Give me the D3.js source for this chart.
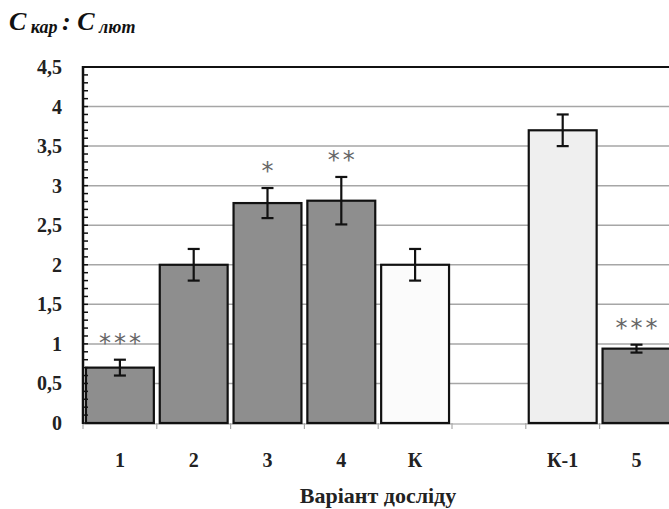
<!DOCTYPE html>
<meta charset="utf-8">
<script src="https://d3js.org/d3.v7.min.js"></script>
<style>
  body { margin: 0; background: #fff; }
</style>
<div id="chart"></div>
<script>

// data
var categories = ["1", "2", "3", "4", "К", "gap", "К-1", "5"];
var labels     = ["1", "2", "3", "4", "К", "",    "К-1", "5"];
var values     = [0.70, 2.00, 2.78, 2.81, 2.00, null, 3.70, 0.94];
var errors     = [0.10, 0.20, 0.19, 0.30, 0.20, null, 0.20, 0.05];
var groups     = ["exp", "exp", "exp", "exp", "ctrl", null, "ctrl1", "exp"];
var stars      = ["***", "", "*", "**", "", "", "", "***"];
var yTicks     = [0, 0.5, 1, 1.5, 2, 2.5, 3, 3.5, 4, 4.5];

var data = categories.map(function(c, i) {
  return {cat: c, label: labels[i], value: values[i], err: errors[i], group: groups[i], star: stars[i]};
});

var W = 669, H = 509;
var margin = {top: 67, left: 83, bottom: 86};
var plotH = H - margin.top - margin.bottom;
var step = 73.8;
var serif = "'Liberation Serif', 'Times New Roman', serif";

var fill = {exp: "#8e8e8e", ctrl: "#fbfbfb", ctrl1: "#efefef"};

var svg = d3.select("#chart").append("svg")
    .attr("width", W)
    .attr("height", H)
    .attr("font-family", serif)
    .attr("font-weight", "bold");

var x = d3.scaleBand()
    .domain(categories)
    .range([margin.left, margin.left + step * categories.length])
    .padding(0);

var y = d3.scaleLinear()
    .domain([0, 4.5])
    .range([margin.top + plotH, margin.top]);

// gridlines
svg.append("g")
  .selectAll("line")
  .data(yTicks.filter(function(t) { return t > 0 && t < 4.5; }))
  .enter().append("line")
    .attr("x1", margin.left)
    .attr("x2", W)
    .attr("y1", function(d) { return y(d); })
    .attr("y2", function(d) { return y(d); })
    .attr("stroke", "#a6a6a6")
    .attr("stroke-width", 1.5);

// top border
svg.append("line")
    .attr("x1", margin.left).attr("x2", W)
    .attr("y1", y(4.5)).attr("y2", y(4.5))
    .attr("stroke", "#111").attr("stroke-width", 2);

// bottom axis with category boundary ticks
var xBound = d3.range(categories.length + 1).map(function(i) { return margin.left + i * step; });
svg.append("line")
    .attr("x1", margin.left).attr("x2", W)
    .attr("y1", y(0) + 1).attr("y2", y(0) + 1)
    .attr("stroke", "#999").attr("stroke-width", 1);
svg.append("g")
  .selectAll("line")
  .data(xBound)
  .enter().append("line")
    .attr("x1", function(d) { return d; })
    .attr("x2", function(d) { return d; })
    .attr("y1", y(0))
    .attr("y2", y(0) + 6)
    .attr("stroke", "#aaa")
    .attr("stroke-width", 1.2);

// bars
var inset = step * 0.04;
var bars = data.filter(function(d) { return d.value != null; });

svg.append("g")
  .selectAll("rect")
  .data(bars)
  .enter().append("rect")
    .attr("x", function(d) { return x(d.cat) + inset; })
    .attr("width", x.bandwidth() - 2 * inset)
    .attr("y", function(d) { return y(d.value); })
    .attr("height", function(d) { return y(0) - y(d.value); })
    .attr("fill", function(d) { return fill[d.group]; })
    .attr("stroke", "#111")
    .attr("stroke-width", 2.2);

// error bars
var eb = svg.append("g").attr("stroke", "#111").attr("stroke-width", 2.2);
bars.forEach(function(d) {
  var cx = x(d.cat) + x.bandwidth() / 2;
  eb.append("line")
      .attr("x1", cx).attr("x2", cx)
      .attr("y1", y(d.value + d.err)).attr("y2", y(d.value - d.err));
  eb.append("line")
      .attr("x1", cx - 6).attr("x2", cx + 6)
      .attr("y1", y(d.value + d.err)).attr("y2", y(d.value + d.err));
  eb.append("line")
      .attr("x1", cx - 6).attr("x2", cx + 6)
      .attr("y1", y(d.value - d.err)).attr("y2", y(d.value - d.err));
});

// significance stars
svg.append("g")
  .selectAll("text")
  .data(bars.filter(function(d) { return d.star; }))
  .enter().append("text")
    .attr("x", function(d) { return x(d.cat) + x.bandwidth() / 2 + 1.5; })
    .attr("y", function(d) { return y(d.value + d.err) - 22 + 13; })
    .attr("text-anchor", "middle")
    .attr("fill", "#666")
    .attr("font-family", "'DejaVu Sans', sans-serif")
    .attr("font-weight", "normal")
    .attr("font-size", 24)
    .attr("letter-spacing", 3)
    .text(function(d) { return d.star; });

// y axis: minor ticks every 0.1
var minor = d3.range(0, 45).map(function(i) { return i / 10; });
svg.append("g")
  .selectAll("line")
  .data(minor)
  .enter().append("line")
    .attr("x1", margin.left)
    .attr("x2", margin.left + 5)
    .attr("y1", function(d) { return y(d); })
    .attr("y2", function(d) { return y(d); })
    .attr("stroke", "#111")
    .attr("stroke-width", 1.5);

svg.append("line")
    .attr("x1", margin.left).attr("x2", margin.left)
    .attr("y1", y(4.5) - 1).attr("y2", y(0) + 1)
    .attr("stroke", "#111").attr("stroke-width", 2.5);

// y tick labels
svg.append("g")
  .selectAll("text")
  .data(yTicks)
  .enter().append("text")
    .attr("x", 62)
    .attr("y", function(d) { return y(d); })
    .attr("dy", "0.35em")
    .attr("text-anchor", "end")
    .attr("font-size", 20)
    .attr("fill", "#222")
    .text(function(d) { return String(d).replace(".", ","); });

// x labels
svg.append("g")
  .selectAll("text")
  .data(data)
  .enter().append("text")
    .attr("x", function(d) { return x(d.cat) + x.bandwidth() / 2; })
    .attr("y", 467)
    .attr("text-anchor", "middle")
    .attr("font-size", 20)
    .attr("fill", "#222")
    .text(function(d) { return d.label; });

// axis title
svg.append("text")
    .attr("x", 378)
    .attr("y", 503)
    .attr("text-anchor", "middle")
    .attr("font-size", 22)
    .attr("fill", "#222")
    .text("Варіант досліду");

// y title: C кар : C лют
var t = svg.append("text")
    .attr("x", 9)
    .attr("y", 30)
    .attr("font-style", "italic")
    .attr("fill", "#111");
t.append("tspan").attr("font-size", 26).text("C");
t.append("tspan").attr("font-size", 18).attr("dy", 3).text(" кар ");
t.append("tspan").attr("font-size", 26).attr("dy", -3).text(": C");
t.append("tspan").attr("font-size", 18).attr("dy", 3).text(" лют");

</script>
